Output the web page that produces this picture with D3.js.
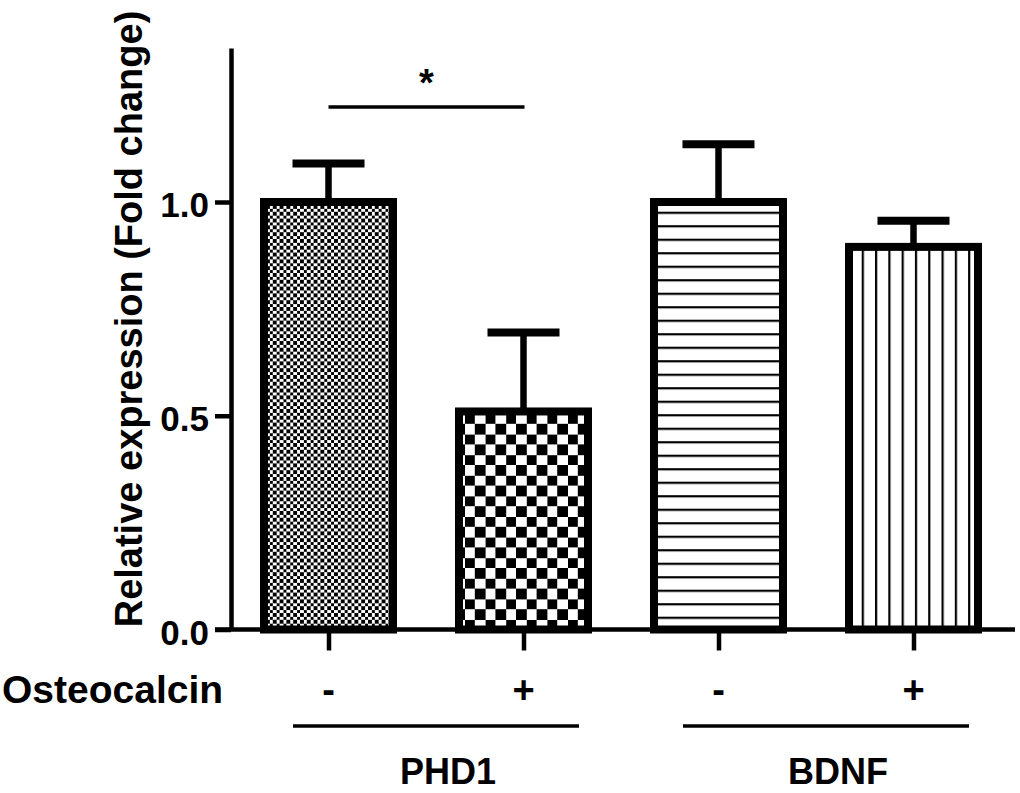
<!DOCTYPE html>
<html>
<head>
<meta charset="utf-8">
<script src="https://cdn.jsdelivr.net/npm/d3@7"></script>
<style>
  html, body { margin: 0; padding: 0; background: #fff; }
  svg { display: block; }
  text { font-family: "Liberation Sans", Arial, sans-serif; font-weight: bold; fill: #000; }
</style>
</head>
<body>
<svg id="chart" width="1020" height="793"></svg>
<script>
// ---- data ----
const categories = ["PHD1-", "PHD1+", "BDNF-", "BDNF+"];
const treatment = ["-", "+", "-", "+"];
const means = [1.00, 0.51, 1.00, 0.895];
const errors = [0.09, 0.185, 0.135, 0.061];
const patterns = ["fineCheck", "coarseCheck", "hLines", "vLines"];
const groups = ["PHD1", "BDNF"];
const groupMembers = [["PHD1-", "PHD1+"], ["BDNF-", "BDNF+"]];
const yTicks = [0, 0.5, 1.0];
const sigPair = ["PHD1-", "PHD1+"];
const sigLevel = 1.222;
const sigLabel = "*";
const rowLabel = "Osteocalcin";
const yLabel = "Relative expression (Fold change)";

// ---- layout ----
const svg = d3.select("#chart");
const axisX = 231, baseY = 629.5;
const x = d3.scalePoint().domain(categories).range([axisX, 1011]).padding(0.5);
const y = d3.scaleLinear().domain([0, 1.36]).range([baseY, baseY - 427.5 * 1.36]);
const barW = 129, capW = 72;

// ---- patterns ----
const defs = svg.append("defs");
function checker(id, c, ox, oy) {
  const p = defs.append("pattern").attr("id", id).attr("patternUnits", "userSpaceOnUse")
    .attr("x", ox).attr("y", oy)
    .attr("width", 2 * c).attr("height", 2 * c);
  p.append("rect").attr("width", 2 * c).attr("height", 2 * c).attr("fill", "#fff");
  p.append("rect").attr("x", 0).attr("y", 0).attr("width", c).attr("height", c).attr("fill", "#000")
    .attr("shape-rendering", "crispEdges");
  p.append("rect").attr("x", c).attr("y", c).attr("width", c).attr("height", c).attr("fill", "#000")
    .attr("shape-rendering", "crispEdges");
}
checker("fineCheck", 3.4, 266, 205);
checker("coarseCheck", 10.3, 465, 414);
{
  const p = defs.append("pattern").attr("id", "hLines").attr("patternUnits", "userSpaceOnUse")
    .attr("width", 20).attr("height", 13.5).attr("y", 212.7 - 1);
  p.append("rect").attr("width", 20).attr("height", 13.5).attr("fill", "#fff");
  p.append("rect").attr("y", 0).attr("width", 20).attr("height", 2.2).attr("fill", "#000");
}
{
  const p = defs.append("pattern").attr("id", "vLines").attr("patternUnits", "userSpaceOnUse")
    .attr("width", 13.3).attr("height", 20).attr("x", 862.7 - 1);
  p.append("rect").attr("width", 13.3).attr("height", 20).attr("fill", "#fff");
  p.append("rect").attr("x", 0).attr("width", 2.2).attr("height", 20).attr("fill", "#000");
}

// ---- y axis ----
const yAxis = svg.append("g").attr("transform", `translate(${axisX},0)`)
  .call(d3.axisLeft(y).tickValues(yTicks).tickFormat(d3.format(".1f")).tickSize(16).tickSizeOuter(0).tickPadding(6));
yAxis.select(".domain").attr("stroke", "#000").attr("stroke-width", 4.5);
yAxis.selectAll(".tick line").attr("stroke", "#000").attr("stroke-width", 4.5);
yAxis.selectAll(".tick text").attr("font-size", 35).attr("dy", "0.42em")
  .style("font-family", '"Liberation Sans", Arial, sans-serif').style("font-weight", "bold");

// ---- x axis ----
svg.append("line").attr("x1", axisX - 16).attr("x2", 1015).attr("y1", baseY).attr("y2", baseY)
  .attr("stroke", "#000").attr("stroke-width", 4.5);
const xAxis = svg.append("g").attr("transform", `translate(0,${baseY})`)
  .call(d3.axisBottom(x).tickSize(21).tickFormat(""));
xAxis.select(".domain").remove();
xAxis.selectAll(".tick line").attr("stroke", "#000").attr("stroke-width", 4.5);

// ---- error bars ----
const eb = svg.append("g");
eb.selectAll("line.stem").data(categories).join("line").attr("class", "stem")
  .attr("x1", d => x(d)).attr("x2", d => x(d))
  .attr("y1", (d, i) => y(means[i])).attr("y2", (d, i) => y(means[i] + errors[i]))
  .attr("stroke", "#000").attr("stroke-width", 6.5);
eb.selectAll("line.cap").data(categories).join("line").attr("class", "cap")
  .attr("x1", d => x(d) - capW / 2).attr("x2", d => x(d) + capW / 2)
  .attr("y1", (d, i) => y(means[i] + errors[i])).attr("y2", (d, i) => y(means[i] + errors[i]))
  .attr("stroke", "#000").attr("stroke-width", 8);

// ---- bars ----
svg.append("g").selectAll("rect").data(categories).join("rect")
  .attr("x", d => x(d) - barW / 2).attr("width", barW)
  .attr("y", (d, i) => y(means[i])).attr("height", (d, i) => y(0) - y(means[i]))
  .attr("fill", (d, i) => `url(#${patterns[i]})`)
  .attr("stroke", "#000").attr("stroke-width", 8);

// ---- significance ----
svg.append("line").attr("x1", x(sigPair[0])).attr("x2", x(sigPair[1]) + 1)
  .attr("y1", y(sigLevel)).attr("y2", y(sigLevel)).attr("stroke", "#000").attr("stroke-width", 3.5);
svg.append("text").attr("x", (x(sigPair[0]) + x(sigPair[1])) / 2 + 0.5).attr("y", y(sigLevel) - 11)
  .attr("text-anchor", "middle").attr("font-size", 38).text(sigLabel);

// ---- treatment row ----
svg.append("text").attr("x", 2).attr("y", 703).attr("font-size", 39).text(rowLabel);
svg.append("g").selectAll("text").data(categories).join("text")
  .attr("x", d => x(d)).attr("y", 703).attr("text-anchor", "middle").attr("font-size", 38)
  .text((d, i) => treatment[i]);

// ---- group lines & labels ----
const gCenter = m => (x(m[0]) + x(m[1])) / 2;
svg.append("g").selectAll("line").data(groupMembers).join("line")
  .attr("x1", m => gCenter(m) + 10 - 143).attr("x2", m => gCenter(m) + 10 + 143)
  .attr("y1", 726).attr("y2", 726).attr("stroke", "#000").attr("stroke-width", 3.5);
svg.append("g").selectAll("text").data(groups).join("text")
  .attr("x", (g, i) => gCenter(groupMembers[i]) + 22).attr("y", 784)
  .attr("text-anchor", "middle").attr("font-size", 36).text(g => g);

// ---- y label ----
svg.append("text").attr("transform", "translate(142,319) rotate(-90)")
  .attr("text-anchor", "middle").attr("font-size", 38).text(yLabel);
</script>
</body>
</html>
